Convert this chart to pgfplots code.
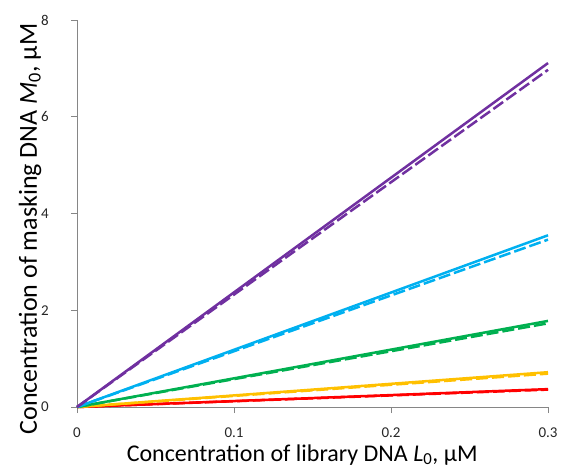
\documentclass[border=0pt]{standalone}
\usepackage{pgfplots}
\pgfplotsset{compat=1.18}
\usepackage{fontspec}
\setmainfont{Carlito}
\definecolor{cpurple}{HTML}{7030A0}
\definecolor{cblue}{HTML}{00B0F0}
\definecolor{cgreen}{HTML}{00B050}
\definecolor{cyellow}{HTML}{FFC000}
\definecolor{cred}{HTML}{FF0000}
\definecolor{axgray}{HTML}{868686}
\begin{document}
\begin{tikzpicture}
\begin{axis}[
  scale only axis,
  width=471pt, height=387pt,
  xmin=0, xmax=0.3, ymin=0, ymax=8,
  axis x line*=bottom, axis y line*=left,
  axis line style={axgray, line width=1pt},
  every tick/.style={axgray, line width=1pt},
  tick align=outside,
  major tick length=6pt,
  xtick={0,0.1,0.2,0.3},
  xticklabels={0,0.1,0.2,0.3},
  ytick={0,2,4,6,8},
  /pgf/number format/assume math mode=true,
  ticklabel style={font=\fontsize{15}{17}\selectfont, text=black!85, inner sep=1pt},
  xticklabel style={anchor=center, yshift=-20pt},
  yticklabel style={anchor=center, xshift=-26pt},
  xlabel={Concentration of library DNA \textit{L}\textsubscript{0}, μM},
  ylabel={Concentration of masking DNA \textit{M}\textsubscript{0}, μM},
  xlabel style={font=\fontsize{24}{26}\selectfont, at={(axis description cs:0.478,0)}, anchor=base, yshift=-54pt, inner sep=1pt},
  ylabel style={font=\fontsize{26}{28}\selectfont, at={(axis description cs:-0.0998,0.46)}, anchor=center},
  clip=false,
  every axis plot/.append style={line width=2.5pt},
]
\addplot[cred] coordinates {(0,0) (0.3,0.37)};
\addplot[cred, dash pattern=on 12pt off 4pt] coordinates {(0,0) (0.3,0.36)};
\addplot[cyellow] coordinates {(0,0) (0.3,0.72)};
\addplot[cyellow, dash pattern=on 12pt off 4pt] coordinates {(0,0) (0.3,0.69)};
\addplot[cgreen] coordinates {(0,0) (0.3,1.78)};
\addplot[cgreen, dash pattern=on 12pt off 4pt] coordinates {(0,0) (0.3,1.73)};
\addplot[cblue] coordinates {(0,0) (0.3,3.55)};
\addplot[cblue, dash pattern=on 12pt off 4pt] coordinates {(0,0) (0.3,3.46)};
\addplot[cpurple] coordinates {(0,0) (0.3,7.11)};
\addplot[cpurple, dash pattern=on 12pt off 4pt] coordinates {(0,0) (0.3,6.97)};
\path (rel axis cs:-0.1635,-0.162) (rel axis cs:1.0318,1.0517);
\end{axis}
\end{tikzpicture}
\end{document}
